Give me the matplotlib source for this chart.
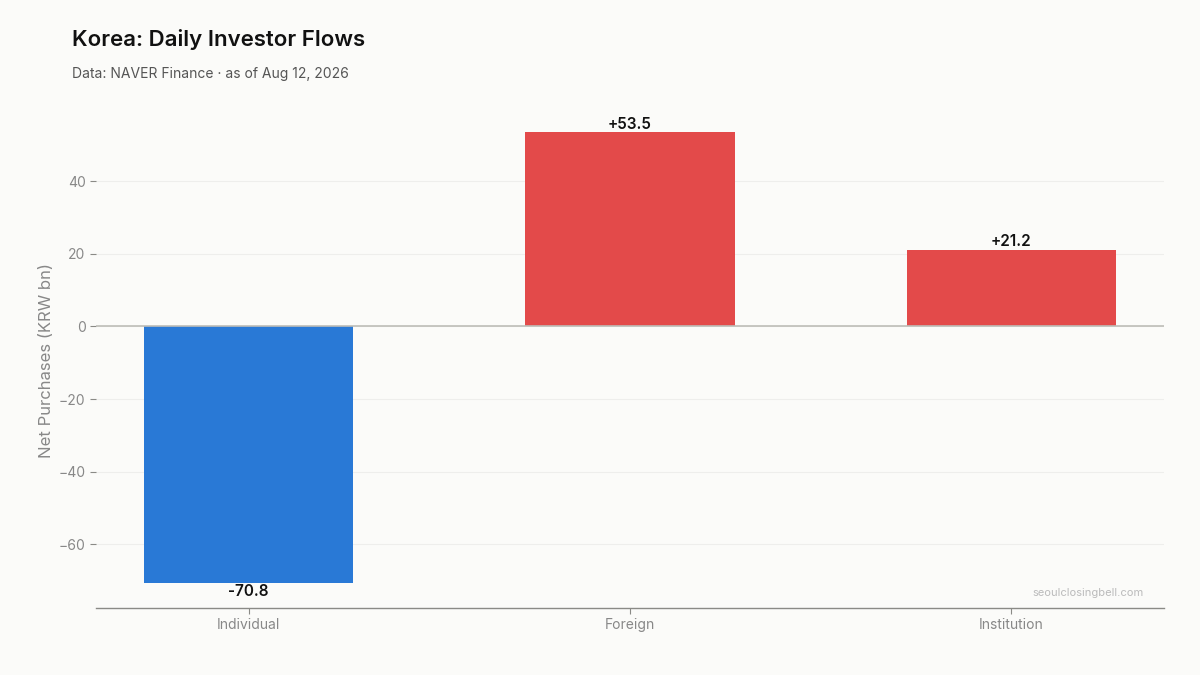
import matplotlib
matplotlib.use("Agg")
import matplotlib.pyplot as plt

categories = ["Individual", "Foreign", "Institution"]
values = [-70.8, 53.5, 21.2]
title = "Korea: Daily Investor Flows"
subtitle = "Data: NAVER Finance · as of Aug 12, 2026"
ylabel = "Net Purchases (KRW bn)"
watermark = "seoulclosingbell.com"

plt.rcParams['font.family'] = ['Inter', 'DejaVu Sans']
BG = "#fbfbf9"
POS = "#e34a4a"
NEG = "#2979d6"

fig = plt.figure(figsize=(12, 6.75), dpi=100, facecolor=BG)
ax = fig.add_axes([0.08, 0.0993, 0.89, 0.7333])
ax.set_facecolor(BG)

x = list(range(len(categories)))
colors = [POS if v >= 0 else NEG for v in values]
ax.bar(x, values, width=0.55, color=colors, zorder=3)

for xi, v in zip(x, values):
    lab = f"{v:+.1f}" if v >= 0 else f"{v:.1f}"
    ax.annotate(lab, (xi, v), xytext=(0, 0.5 if v >= 0 else -0.5), textcoords="offset points",
                ha="center", va="bottom" if v >= 0 else "top",
                fontsize=11, fontweight="semibold", color="#111111", zorder=4)

ax.axhline(0, color="#bdbdb8", lw=1.2, zorder=4)
ax.set_xlim(-0.4, 2.4)
ax.set_ylim(-77.6, max(values) * 1.1)
ax.set_yticks([-60, -40, -20, 0, 20, 40])
ax.set_xticks(x)
ax.set_xticklabels(categories)
ax.yaxis.grid(True, color="#eeeeec", lw=0.8, zorder=0)
ax.xaxis.grid(False)
for s in ["left", "top", "right"]:
    ax.spines[s].set_visible(False)
ax.spines["bottom"].set_color("#8a8a86")
ax.spines["bottom"].set_linewidth(1.0)
ax.tick_params(axis="both", colors="#8a8a86", labelsize=10, length=4, width=0.8, labelcolor="#888888")
ax.set_ylabel(ylabel, fontsize=12, color="#888888", labelpad=3)

fig.text(0.06, 0.941, title, fontsize=16, fontweight="semibold", color="#111111", va="center")
fig.text(0.06, 0.890, subtitle, fontsize=10, color="#555555", va="center")
ax.text(0.981, 0.03, watermark, transform=ax.transAxes, ha="right", va="center",
        fontsize=8, color="#bbbbbb")

fig.savefig("out.png", dpi=100, facecolor=BG)
